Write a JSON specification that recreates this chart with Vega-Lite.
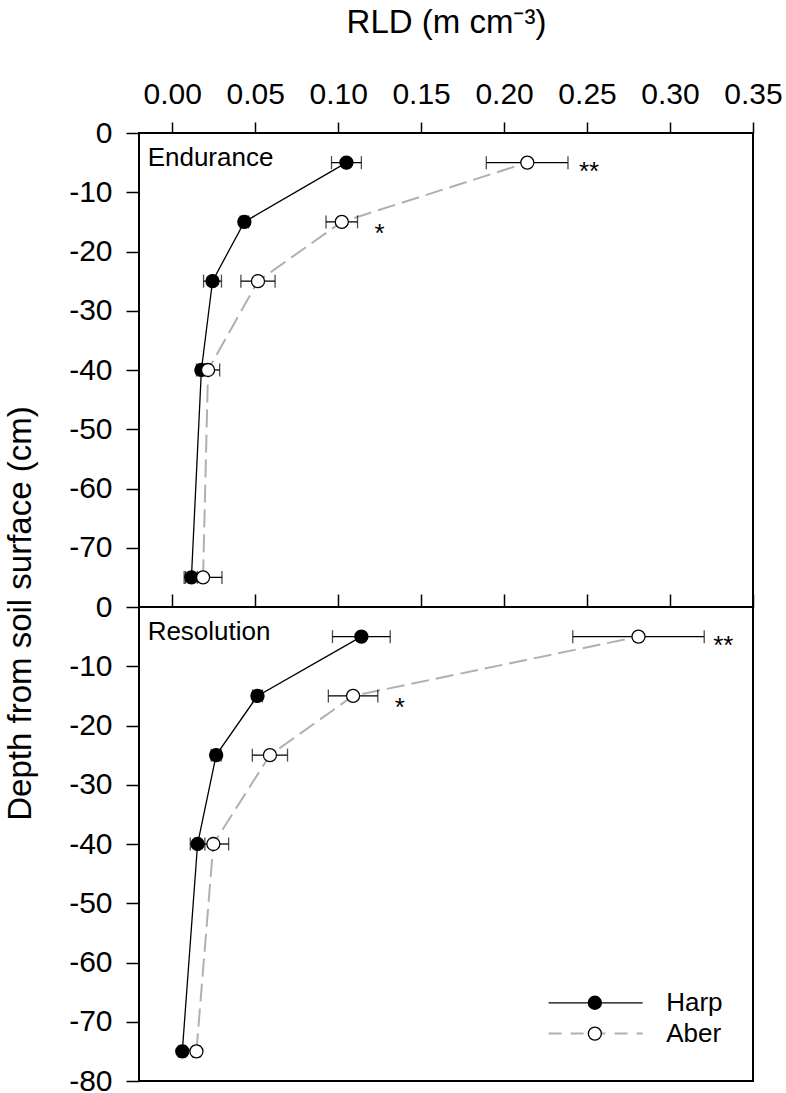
{
  "$schema": "https://vega.github.io/schema/vega-lite/v6.json",
  "padding": {"left": 3, "top": 5, "right": 5, "bottom": 0},
  "background": "white",
  "config": {
    "font": "Liberation Sans",
    "view": {"stroke": "black", "strokeWidth": 2},
    "axis": {
      "domain": false, "grid": false,
      "tickColor": "black", "tickWidth": 1.5,
      "labelColor": "black", "labelFontSize": 30, "labelFont": "Liberation Sans",
      "titleColor": "black", "titleFontSize": 33, "titleFontWeight": "normal", "titleFont": "Liberation Sans",
      "labelFlush": false, "labelOverlap": false
    },
    "text": {"font": "Liberation Sans", "color": "black"}
  },
  "datasets": {
    "rld": [
      {"cultivar": "Endurance", "series": "Harp", "depth": -5, "rld": 0.105, "lo": 0.096, "hi": 0.114, "sig": ""},
      {"cultivar": "Endurance", "series": "Harp", "depth": -15, "rld": 0.0435, "lo": 0.041, "hi": 0.046, "sig": ""},
      {"cultivar": "Endurance", "series": "Harp", "depth": -25, "rld": 0.0243, "lo": 0.0189, "hi": 0.0297, "sig": ""},
      {"cultivar": "Endurance", "series": "Harp", "depth": -40, "rld": 0.0176, "lo": 0.0156, "hi": 0.0196, "sig": ""},
      {"cultivar": "Endurance", "series": "Harp", "depth": -75, "rld": 0.0116, "lo": 0.008, "hi": 0.0152, "sig": ""},
      {"cultivar": "Endurance", "series": "Aber", "depth": -5, "rld": 0.214, "lo": 0.1893, "hi": 0.2385, "sig": "**"},
      {"cultivar": "Endurance", "series": "Aber", "depth": -15, "rld": 0.1022, "lo": 0.0927, "hi": 0.1117, "sig": "*"},
      {"cultivar": "Endurance", "series": "Aber", "depth": -25, "rld": 0.0517, "lo": 0.0414, "hi": 0.062, "sig": ""},
      {"cultivar": "Endurance", "series": "Aber", "depth": -40, "rld": 0.0216, "lo": 0.0146, "hi": 0.0286, "sig": ""},
      {"cultivar": "Endurance", "series": "Aber", "depth": -75, "rld": 0.0186, "lo": 0.0072, "hi": 0.03, "sig": ""},
      {"cultivar": "Resolution", "series": "Harp", "depth": -5, "rld": 0.114, "lo": 0.0966, "hi": 0.1314, "sig": ""},
      {"cultivar": "Resolution", "series": "Harp", "depth": -15, "rld": 0.0514, "lo": 0.0484, "hi": 0.0544, "sig": ""},
      {"cultivar": "Resolution", "series": "Harp", "depth": -25, "rld": 0.0265, "lo": 0.0235, "hi": 0.0295, "sig": ""},
      {"cultivar": "Resolution", "series": "Harp", "depth": -40, "rld": 0.0153, "lo": 0.0109, "hi": 0.0197, "sig": ""},
      {"cultivar": "Resolution", "series": "Harp", "depth": -75, "rld": 0.0061, "lo": 0.0041, "hi": 0.0081, "sig": ""},
      {"cultivar": "Resolution", "series": "Aber", "depth": -5, "rld": 0.281, "lo": 0.2414, "hi": 0.3206, "sig": "**"},
      {"cultivar": "Resolution", "series": "Aber", "depth": -15, "rld": 0.109, "lo": 0.0941, "hi": 0.1239, "sig": "*"},
      {"cultivar": "Resolution", "series": "Aber", "depth": -25, "rld": 0.0589, "lo": 0.0483, "hi": 0.0695, "sig": ""},
      {"cultivar": "Resolution", "series": "Aber", "depth": -40, "rld": 0.0248, "lo": 0.0156, "hi": 0.034, "sig": ""},
      {"cultivar": "Resolution", "series": "Aber", "depth": -75, "rld": 0.0146, "lo": 0.0126, "hi": 0.0166, "sig": ""}
    ],
    "legend": [
      {"entry": "Harp"},
      {"entry": "Aber"}
    ]
  },
  "vconcat": [
    {
      "width": 614,
      "height": 474,
      "data": {"name": "rld"},
      "transform": [{"filter": "datum.cultivar === 'Endurance'"}],
      "layer": [
        {
          "transform": [{"filter": "datum.series === 'Harp'"}],
          "mark": {"type": "line", "color": "black", "strokeWidth": 1.3},
          "encoding": {
            "x": {"field": "rld", "type": "quantitative", "title": "RLD (m cm⁻³)", "scale": {"domain": [-0.02, 0.35], "nice": false, "zero": false},
                  "axis": {"orient": "top", "values": [0, 0.05, 0.1, 0.15, 0.2, 0.25, 0.3, 0.35], "format": ".2f", "tickSize": 11, "labelPadding": 13, "titlePadding": 40}},
            "y": {"field": "depth", "type": "quantitative", "title": "Depth from soil surface (cm)", "scale": {"domain": [-80, 0], "nice": false, "zero": false},
                  "axis": {"values": [0, -10, -20, -30, -40, -50, -60, -70], "labelExpr": "toString(datum.value)", "tickSize": 13, "labelPadding": 14, "titleY": 480, "titlePadding": 31}},
            "order": {"field": "depth"}
          }
        },
        {
          "transform": [{"filter": "datum.series === 'Aber'"}],
          "mark": {"type": "line", "color": "#b0b0b0", "strokeWidth": 2, "strokeDash": [18, 7]},
          "encoding": {
            "x": {"field": "rld", "type": "quantitative", "title": "RLD (m cm⁻³)"},
            "y": {"field": "depth", "type": "quantitative", "title": "Depth from soil surface (cm)"},
            "order": {"field": "depth"}
          }
        },
        {
          "mark": {"type": "errorbar", "ticks": true, "size": 13, "thickness": 1.3, "color": "black"},
          "encoding": {
            "x": {"field": "lo", "type": "quantitative", "title": "RLD (m cm⁻³)"},
            "x2": {"field": "hi"},
            "y": {"field": "depth", "type": "quantitative", "title": "Depth from soil surface (cm)"}
          }
        },
        {
          "mark": {"type": "point", "shape": "circle", "filled": true, "size": 170, "stroke": "black", "strokeWidth": 1.3, "opacity": 1},
          "encoding": {
            "x": {"field": "rld", "type": "quantitative", "title": "RLD (m cm⁻³)"},
            "y": {"field": "depth", "type": "quantitative", "title": "Depth from soil surface (cm)"},
            "fill": {"field": "series", "type": "nominal", "scale": {"domain": ["Harp", "Aber"], "range": ["black", "white"]}, "legend": null}
          }
        },
        {
          "transform": [{"filter": "datum.sig === '**'"}],
          "mark": {"type": "text", "fontSize": 26, "align": "left", "baseline": "alphabetic", "dx": 11, "dy": 17},
          "encoding": {
            "x": {"field": "hi", "type": "quantitative", "title": "RLD (m cm⁻³)"},
            "y": {"field": "depth", "type": "quantitative", "title": "Depth from soil surface (cm)"},
            "text": {"field": "sig"}
          }
        },
        {
          "transform": [{"filter": "datum.sig === '*'"}],
          "mark": {"type": "text", "fontSize": 26, "align": "left", "baseline": "alphabetic", "dx": 17, "dy": 20},
          "encoding": {
            "x": {"field": "hi", "type": "quantitative", "title": "RLD (m cm⁻³)"},
            "y": {"field": "depth", "type": "quantitative", "title": "Depth from soil surface (cm)"},
            "text": {"field": "sig"}
          }
        },
        {
          "transform": [{"filter": "datum.series === 'Harp' && datum.depth === -5"}],
          "mark": {"type": "text", "fontSize": 26, "align": "left", "baseline": "alphabetic"},
          "encoding": {
            "x": {"datum": -0.0148},
            "y": {"datum": -5.6},
            "text": {"field": "cultivar"}
          }
        }
      ]
    },
    {
      "width": 614,
      "height": 474,
      "layer": [
        {
          "data": {"name": "rld"},
          "transform": [{"filter": "datum.cultivar === 'Resolution'"}],
          "layer": [
            {
              "transform": [{"filter": "datum.series === 'Harp'"}],
              "mark": {"type": "line", "color": "black", "strokeWidth": 1.3},
              "encoding": {
                "x": {"field": "rld", "type": "quantitative", "scale": {"domain": [-0.02, 0.35], "nice": false, "zero": false},
                      "axis": {"orient": "top", "values": [0, 0.05, 0.1, 0.15, 0.2, 0.25, 0.3, 0.35], "labels": false, "tickSize": 13, "title": null}},
                "y": {"field": "depth", "type": "quantitative", "scale": {"domain": [-80, 0], "nice": false, "zero": false},
                      "axis": {"values": [0, -10, -20, -30, -40, -50, -60, -70, -80], "labelExpr": "toString(datum.value)", "tickSize": 13, "labelPadding": 14, "title": null}},
                "order": {"field": "depth"}
              }
            },
            {
              "transform": [{"filter": "datum.series === 'Aber'"}],
              "mark": {"type": "line", "color": "#b0b0b0", "strokeWidth": 2, "strokeDash": [18, 7]},
              "encoding": {
                "x": {"field": "rld", "type": "quantitative"},
                "y": {"field": "depth", "type": "quantitative"},
                "order": {"field": "depth"}
              }
            },
            {
              "mark": {"type": "errorbar", "ticks": true, "size": 13, "thickness": 1.3, "color": "black"},
              "encoding": {
                "x": {"field": "lo", "type": "quantitative"},
                "x2": {"field": "hi"},
                "y": {"field": "depth", "type": "quantitative"}
              }
            },
            {
              "mark": {"type": "point", "shape": "circle", "filled": true, "size": 170, "stroke": "black", "strokeWidth": 1.3, "opacity": 1},
              "encoding": {
                "x": {"field": "rld", "type": "quantitative"},
                "y": {"field": "depth", "type": "quantitative"},
                "fill": {"field": "series", "type": "nominal", "scale": {"domain": ["Harp", "Aber"], "range": ["black", "white"]}, "legend": null}
              }
            },
            {
              "transform": [{"filter": "datum.sig === '**'"}],
              "mark": {"type": "text", "fontSize": 26, "align": "left", "baseline": "alphabetic", "dx": 9, "dy": 17},
              "encoding": {
                "x": {"field": "hi", "type": "quantitative"},
                "y": {"field": "depth", "type": "quantitative"},
                "text": {"field": "sig"}
              }
            },
            {
              "transform": [{"filter": "datum.sig === '*'"}],
              "mark": {"type": "text", "fontSize": 26, "align": "left", "baseline": "alphabetic", "dx": 17, "dy": 20},
              "encoding": {
                "x": {"field": "hi", "type": "quantitative"},
                "y": {"field": "depth", "type": "quantitative"},
                "text": {"field": "sig"}
              }
            },
            {
              "transform": [{"filter": "datum.series === 'Harp' && datum.depth === -5"}],
              "mark": {"type": "text", "fontSize": 26, "align": "left", "baseline": "alphabetic"},
              "encoding": {
                "x": {"datum": -0.0148},
                "y": {"datum": -5.6},
                "text": {"field": "cultivar"}
              }
            }
          ]
        },
        {
          "data": {"name": "legend"},
          "layer": [
            {
              "transform": [{"filter": "datum.entry === 'Harp'"}],
              "mark": {"type": "rule", "color": "black", "strokeWidth": 1.3},
              "encoding": {"x": {"datum": 0.2268}, "x2": {"datum": 0.2835}, "y": {"datum": -66.8}}
            },
            {
              "transform": [{"filter": "datum.entry === 'Aber'"}],
              "mark": {"type": "rule", "color": "#b0b0b0", "strokeWidth": 2, "strokeDash": [13, 9]},
              "encoding": {"x": {"datum": 0.2268}, "x2": {"datum": 0.2835}, "y": {"datum": -72.0}}
            },
            {
              "transform": [{"filter": "datum.entry === 'Harp'"}],
              "mark": {"type": "point", "shape": "circle", "filled": true, "size": 170, "fill": "black", "stroke": "black", "strokeWidth": 1.3, "opacity": 1},
              "encoding": {"x": {"datum": 0.2547}, "y": {"datum": -66.8}}
            },
            {
              "transform": [{"filter": "datum.entry === 'Aber'"}],
              "mark": {"type": "point", "shape": "circle", "filled": true, "size": 170, "fill": "white", "stroke": "black", "strokeWidth": 1.3, "opacity": 1},
              "encoding": {"x": {"datum": 0.2547}, "y": {"datum": -72.0}}
            },
            {
              "transform": [{"filter": "datum.entry === 'Harp'"}],
              "mark": {"type": "text", "fontSize": 26, "align": "left", "baseline": "middle"},
              "encoding": {"x": {"datum": 0.2977}, "y": {"datum": -66.8}, "text": {"field": "entry"}}
            },
            {
              "transform": [{"filter": "datum.entry === 'Aber'"}],
              "mark": {"type": "text", "fontSize": 26, "align": "left", "baseline": "middle"},
              "encoding": {"x": {"datum": 0.2977}, "y": {"datum": -72.0}, "text": {"field": "entry"}}
            }
          ]
        }
      ]
    }
  ],
  "spacing": 0,
  "bounds": "flush"
}
